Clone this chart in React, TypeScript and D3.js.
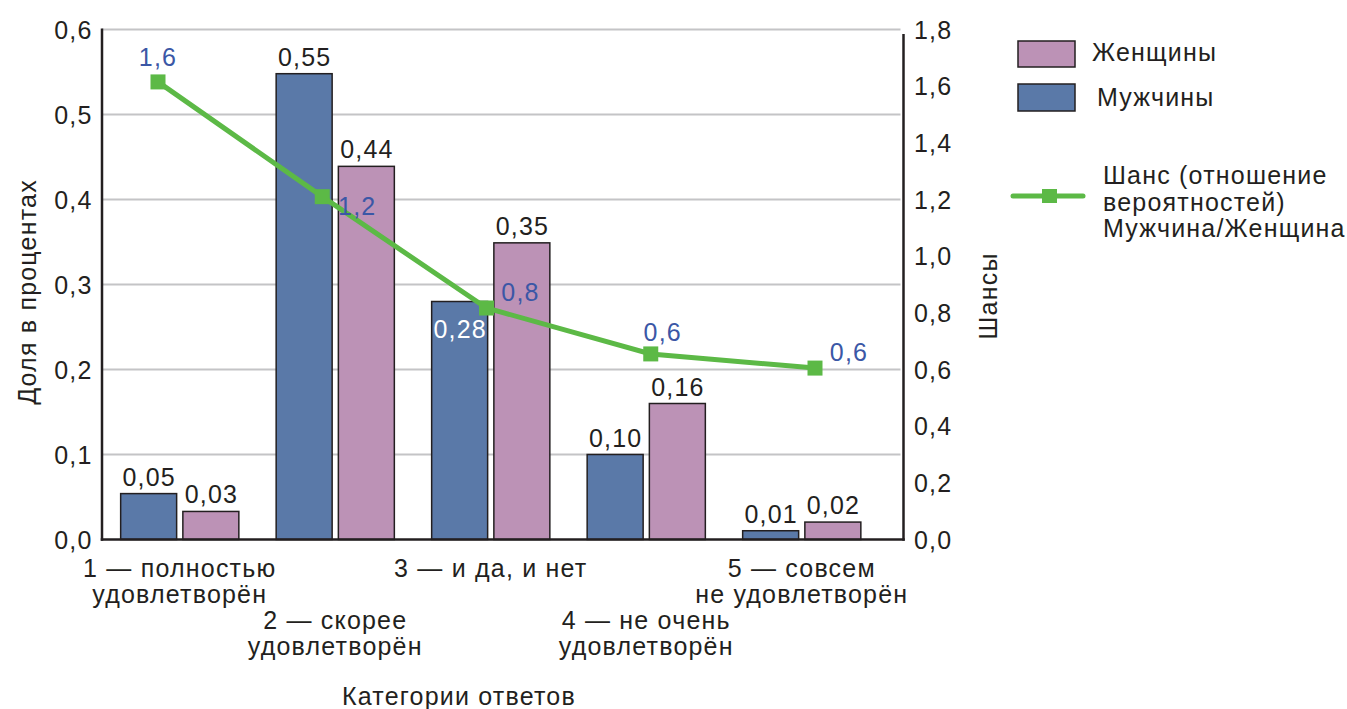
import React from "react";
import * as d3 from "d3";

const categories = ["c1", "c2", "c3", "c4", "c5"];
const categoryLabels: string[][] = [
  ["1 — полностью", "удовлетворён"],
  ["2 — скорее", "удовлетворён"],
  ["3 — и да, и нет"],
  ["4 — не очень", "удовлетворён"],
  ["5 — совсем", "не удовлетворён"],
];
const categoryRow = [0, 1, 0, 1, 0];
const menValues = [0.054, 0.548, 0.28, 0.1, 0.0103];
const womenValues = [0.033, 0.439, 0.349, 0.16, 0.0205];
const menLabels = ["0,05", "0,55", "0,28", "0,10", "0,01"];
const womenLabels = ["0,03", "0,44", "0,35", "0,16", "0,02"];
const menLabelInside = [false, false, true, false, false];
const oddsValues = [1.615, 1.21, 0.817, 0.655, 0.605];
const oddsLabels = ["1,6", "1,2", "0,8", "0,6", "0,6"];
const oddsLabelPlace = ["above", "right", "rightAbove", "aboveRight", "rightAbove"];
const leftTicks = [0, 0.1, 0.2, 0.3, 0.4, 0.5, 0.6];
const rightTicks = [0, 0.2, 0.4, 0.6, 0.8, 1.0, 1.2, 1.4, 1.6, 1.8];

const BLUE = "#5a79a8";
const PINK = "#bc92b6";
const GREEN = "#5cb946";
const LBLUE = "#3b57a6";
const DARK = "#231f20";
const GRID = "#c4c4c6";
const FONT = "'Liberation Sans', Arial, Helvetica, sans-serif";
const FS = 25;
const LS = 1.2;

const fmt = (v: number) => v.toFixed(1).replace(".", ",");

export default function App() {
  const left = 102;
  const right = 903.5;
  const top = 29.5;
  const bottom = 539.5;

  const yL = d3.scaleLinear().domain([0, 0.6]).range([bottom, top]);
  const yR = d3.scaleLinear().domain([0, 1.8]).range([bottom, top]);
  const x0 = d3
    .scaleBand<string>()
    .domain(categories)
    .range([102, 879.5])
    .paddingInner(0.24)
    .paddingOuter(0.12);
  const x1 = d3
    .scaleBand<string>()
    .domain(["men", "women"])
    .range([0, x0.bandwidth()])
    .paddingInner(0.1);
  const xLine = d3.scalePoint<string>().domain(categories).range([158, 815]);

  const lineGen = d3
    .line<number>()
    .x((_, i) => xLine(categories[i])!)
    .y((d) => yR(d));

  const placeOffset: Record<string, [number, number]> = {
    above: [0, -16],
    right: [35, 18],
    rightAbove: [34, -7],
    aboveRight: [12, -13],
  };

  const ms = 15;

  return (
    <svg
      width={1347}
      height={709}
      style={{ position: "absolute", left: 0, top: 0, background: "#fff" }}
      fontFamily={FONT}
      letterSpacing={LS}
    >
      {/* gridlines */}
      {leftTicks
        .filter((t) => t > 0)
        .map((t) => (
          <line
            key={"g" + t}
            x1={left}
            x2={right - 3}
            y1={yL(t)}
            y2={yL(t)}
            stroke={GRID}
            strokeWidth={2}
          />
        ))}

      {/* bars */}
      {categories.map((c, i) => {
        const gx = x0(c)!;
        const mx = gx + x1("men")!;
        const wx = gx + x1("women")!;
        const bw = x1.bandwidth();
        return (
          <g key={"b" + c}>
            <rect
              x={mx}
              y={yL(menValues[i])}
              width={bw}
              height={bottom - yL(menValues[i])}
              fill={BLUE}
              stroke={DARK}
              strokeWidth={1.5}
            />
            <rect
              x={wx}
              y={yL(womenValues[i])}
              width={bw}
              height={bottom - yL(womenValues[i])}
              fill={PINK}
              stroke={DARK}
              strokeWidth={1.5}
            />
            <text
              x={mx + bw / 2 + LS / 2}
              y={menLabelInside[i] ? yL(menValues[i]) + 36 : yL(menValues[i]) - 8}
              textAnchor="middle"
              fontSize={FS}
              fill={menLabelInside[i] ? "#fff" : DARK}
            >
              {menLabels[i]}
            </text>
            <text
              x={wx + bw / 2 + LS / 2}
              y={yL(womenValues[i]) - 8}
              textAnchor="middle"
              fontSize={FS}
              fill={DARK}
            >
              {womenLabels[i]}
            </text>
          </g>
        );
      })}

      {/* axes */}
      <line x1={left} x2={left} y1={top - 1} y2={bottom + 1.25} stroke={DARK} strokeWidth={2.5} />
      <line x1={right} x2={right} y1={top + 4.5} y2={bottom + 1.25} stroke={DARK} strokeWidth={2.5} />
      <line x1={left - 1.25} x2={right + 1.25} y1={bottom} y2={bottom} stroke={DARK} strokeWidth={2.5} />

      {leftTicks.map((t) => (
        <text
          key={"lt" + t}
          x={92.5}
          y={yL(t) + 9}
          textAnchor="end"
          fontSize={FS}
          fill={DARK}
        >
          {fmt(t)}
        </text>
      ))}
      {rightTicks.map((t) => (
        <text
          key={"rt" + t}
          x={914}
          y={yR(t) + 9}
          textAnchor="start"
          fontSize={FS}
          fill={DARK}
        >
          {fmt(t)}
        </text>
      ))}

      {/* odds line */}
      <path d={lineGen(oddsValues)!} fill="none" stroke={GREEN} strokeWidth={5} />
      {oddsValues.map((v, i) => (
        <rect
          key={"m" + i}
          x={xLine(categories[i])! - ms / 2}
          y={yR(v) - ms / 2}
          width={ms}
          height={ms}
          fill={GREEN}
        />
      ))}
      {oddsValues.map((v, i) => {
        const [dx, dy] = placeOffset[oddsLabelPlace[i]];
        return (
          <text
            key={"ol" + i}
            x={xLine(categories[i])! + dx}
            y={yR(v) + dy}
            textAnchor="middle"
            fontSize={FS}
            fill={LBLUE}
          >
            {oddsLabels[i]}
          </text>
        );
      })}

      {/* category labels */}
      {categories.map((c, i) => {
        const cx = x0(c)! + x0.bandwidth() / 2;
        const base = categoryRow[i] === 0 ? 577 : 629;
        return (
          <text key={"cl" + c} textAnchor="middle" fontSize={FS} fill={DARK}>
            {categoryLabels[i].map((ln, j) => (
              <tspan key={j} x={cx} y={base + j * 25.5}>
                {ln}
              </tspan>
            ))}
          </text>
        );
      })}

      {/* axis titles */}
      <text x={459} y={705} textAnchor="middle" fontSize={FS} fill={DARK}>
        Категории ответов
      </text>
      <text
        transform="translate(36,292) rotate(-90)"
        textAnchor="middle"
        fontSize={FS}
        fill={DARK}
      >
        Доля в процентах
      </text>
      <text
        transform="translate(997,296) rotate(-90)"
        textAnchor="middle"
        fontSize={FS}
        fill={DARK}
      >
        Шансы
      </text>

      {/* legend */}
      <rect x={1018} y={41} width={57} height={26} fill={PINK} stroke={DARK} strokeWidth={1.5} />
      <text x={1092} y={61} fontSize={FS} fill={DARK}>
        Женщины
      </text>
      <rect x={1018} y={84} width={57} height={27} fill={BLUE} stroke={DARK} strokeWidth={1.5} />
      <text x={1097} y={106} fontSize={FS} fill={DARK}>
        Мужчины
      </text>
      <line x1={1013} x2={1083} y1={196} y2={196} stroke={GREEN} strokeWidth={5} strokeLinecap="round" />
      <rect x={1042} y={189} width={15} height={14} fill={GREEN} />
      <text fontSize={FS} fill={DARK}>
        <tspan x={1103} y={184}>Шанс (отношение</tspan>
        <tspan x={1103} y={210.5}>вероятностей)</tspan>
        <tspan x={1103} y={237}>Мужчина/Женщина</tspan>
      </text>
    </svg>
  );
}
